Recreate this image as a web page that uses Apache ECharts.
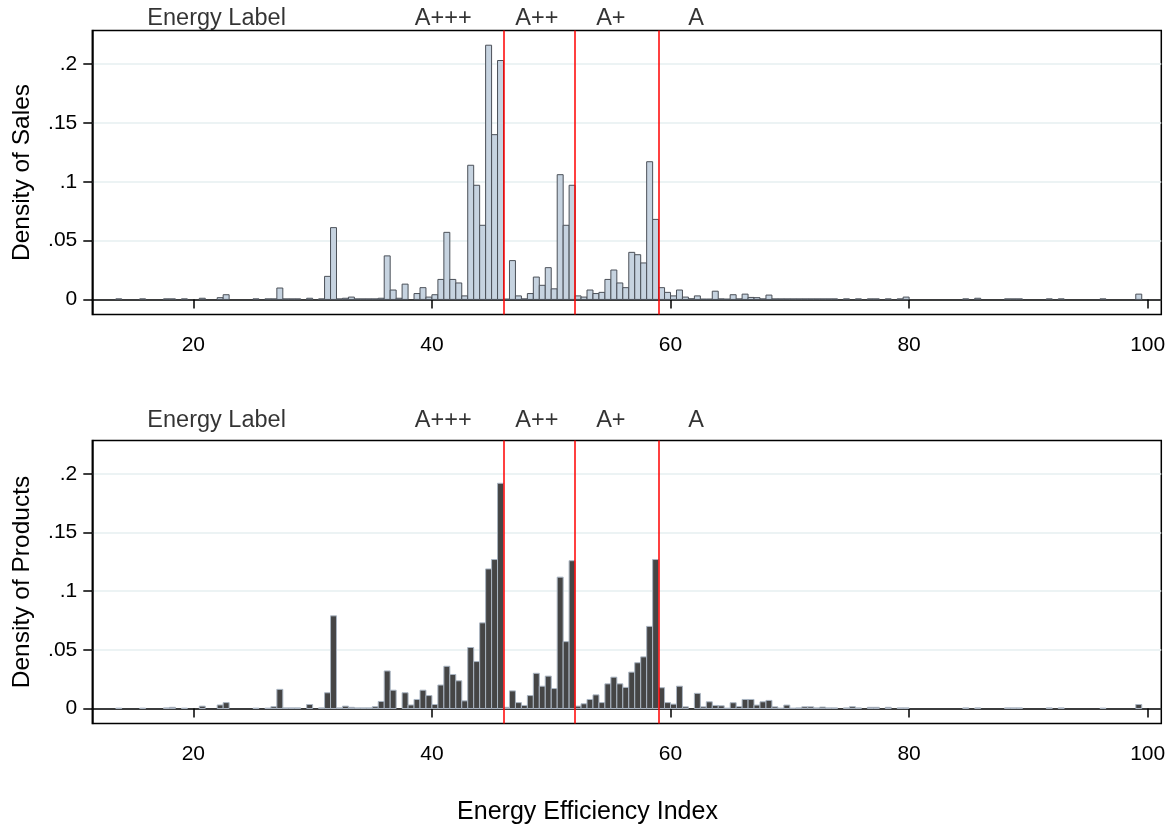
<!DOCTYPE html>
<html>
<head>
<meta charset="utf-8">
<title>Energy Efficiency Index</title>
<script src="https://cdn.jsdelivr.net/npm/echarts@6/dist/echarts.min.js"></script>
<style>
  html, body { margin: 0; padding: 0; background: #ffffff; }
  #chart { width: 1175px; height: 826px; }
</style>
</head>
<body>
<div id="chart"></div>
<script>
// Histogram bins: [bin start, density], each bin is BIN_WIDTH wide
const BIN_WIDTH = 0.5;

const salesHist = [
  [13.5,0.0005],[15.5,0.0005],[17.5,0.0005],[18,0.0005],[19,0.0005],[20.5,0.001],
  [22,0.0015],[22.5,0.004],[25,0.0005],[26,0.0005],[26.5,0.0005],[27,0.0097],
  [27.5,0.0005],[28,0.0005],[28.5,0.0005],[29.5,0.001],[30.5,0.0005],[31,0.0196],
  [31.5,0.061],[32,0.0005],[32.5,0.001],[33,0.002],[33.5,0.0005],[34,0.0005],
  [34.5,0.0005],[35,0.0005],[35.5,0.001],[36,0.037],[36.5,0.008],[37,0.001],
  [37.5,0.013],[38.5,0.005],[39,0.010],[39.5,0.002],[40,0.004],[40.5,0.017],
  [41,0.057],[41.5,0.017],[42,0.014],[42.5,0.003],[43,0.114],[43.5,0.097],
  [44,0.063],[44.5,0.216],[45,0.140],[45.5,0.203],[46,0.0003],[46.5,0.033],
  [47,0.003],[47.5,0.0005],[48,0.005],[48.5,0.019],[49,0.012],[49.5,0.027],
  [50,0.009],[50.5,0.106],[51,0.063],[51.5,0.097],[52,0.003],[52.5,0.002],
  [53,0.008],[53.5,0.005],[54,0.006],[54.5,0.017],[55,0.025],[55.5,0.014],
  [56,0.010],[56.5,0.040],[57,0.038],[57.5,0.031],[58,0.117],[58.5,0.068],
  [59,0.010],[59.5,0.006],[60,0.003],[60.5,0.008],[61,0.002],[61.5,0.0006],
  [62,0.003],[62.5,0.0003],[63,0.0003],[63.5,0.007],[64,0.0005],[64.5,0.0003],
  [65,0.004],[65.5,0.0005],[66,0.0045],[66.5,0.0017],[67,0.0015],[67.5,0.0005],
  [68,0.0037],[68.5,0.0005],[69,0.0005],[69.5,0.0005],[70,0.0005],[70.5,0.0005],
  [71,0.0005],[71.5,0.0005],[72,0.0005],[72.5,0.0005],[73,0.0005],[73.5,0.0005],
  [74.5,0.0005],[75.5,0.0005],[76.5,0.0005],[77,0.0005],[78,0.0005],[79,0.0005],
  [79.5,0.002],[84.5,0.0005],[85.5,0.001],[88,0.0005],[88.5,0.0005],[89,0.0005],
  [91.5,0.0005],[92.5,0.0005],[96,0.0005],[99,0.0045]
];

const productsHist = [
  [13.5,0.0003],[15.5,0.0003],[17.5,0.0005],[18,0.001],[19,0.0003],[20.5,0.002],
  [22,0.003],[22.5,0.005],[25,0.0003],[26,0.0003],[26.5,0.0015],[27,0.0163],
  [27.5,0.0005],[28,0.0005],[28.5,0.0005],[29.5,0.0034],[30.5,0.0005],[31,0.0134],
  [31.5,0.079],[32,0.0005],[32.5,0.002],[33,0.001],[33.5,0.0005],[34,0.0005],
  [34.5,0.0005],[35,0.0015],[35.5,0.006],[36,0.032],[36.5,0.0156],[37.5,0.0134],
  [38,0.003],[38.5,0.0077],[39,0.0156],[39.5,0.011],[40,0.0034],[40.5,0.020],
  [41,0.036],[41.5,0.029],[42,0.0236],[42.5,0.0065],[43,0.052],[43.5,0.040],
  [44,0.073],[44.5,0.119],[45,0.127],[45.5,0.192],[46,0.001],[46.5,0.015],
  [47,0.005],[47.5,0.0026],[48,0.011],[48.5,0.030],[49,0.019],[49.5,0.0276],
  [50,0.017],[50.5,0.112],[51,0.057],[51.5,0.126],[52,0.002],[52.5,0.004],
  [53,0.0077],[53.5,0.0116],[54,0.005],[54.5,0.021],[55,0.0267],[55.5,0.021],
  [56,0.018],[56.5,0.031],[57,0.039],[57.5,0.044],[58,0.070],[58.5,0.127],
  [59,0.0177],[59.5,0.005],[60,0.0037],[60.5,0.019],[61,0.0014],[62,0.0129],
  [62.5,0.0014],[63,0.0057],[63.5,0.0026],[64,0.0023],[64.5,0.0003],[65,0.0049],
  [65.5,0.0017],[66,0.0077],[66.5,0.0077],[67,0.0029],[67.5,0.0057],[68,0.0069],
  [68.5,0.0014],[69,0.0003],[69.5,0.0029],[70,0.0003],[70.5,0.0005],[71,0.0014],
  [71.5,0.0014],[72,0.0005],[72.5,0.0012],[73,0.0005],[73.5,0.0005],[74.5,0.0005],
  [75,0.0015],[75.5,0.0005],[76.5,0.001],[77,0.001],[78,0.001],[79,0.0005],
  [79.5,0.0005],[84.5,0.0005],[85.5,0.0005],[88,0.0005],[88.5,0.0005],[89,0.0005],
  [91.5,0.0005],[92.5,0.0005],[96,0.0003],[99,0.0034]
];

// Energy label class boundaries and the label row above each panel
const classBounds = [46, 52, 59];
const labelNames = ['Energy Label', 'A+++', 'A++', 'A+', 'A'];
const labelX = [21.95, 40.95, 48.8, 55.0, 62.15];

const xTicks = [20, 40, 60, 80, 100];
const yTicks = [0, 0.05, 0.1, 0.15, 0.2];

const X_MIN = 11.53, X_MAX = 101.14;
const Y_MIN = -0.0128, Y_MAX = 0.2285;

const FONT = "'Liberation Sans', Arial, sans-serif";

function fmtY(v) {
  return v === 0 ? '0' : String(v).replace(/^0/, '');
}

function barRenderer(fill, stroke) {
  return function (params, api) {
    const x0 = api.value(0);
    const h = api.value(1);
    const p0 = api.coord([x0, 0]);
    const p1 = api.coord([x0 + BIN_WIDTH, h]);
    return {
      type: 'rect',
      shape: { x: p0[0], y: p1[1], width: p1[0] - p0[0], height: p0[1] - p1[1] },
      style: { fill: fill, stroke: stroke, lineWidth: 1 }
    };
  };
}

function makeX(gridIndex) {
  return {
    type: 'value', gridIndex: gridIndex, min: X_MIN, max: X_MAX,
    axisLine: { show: true, lineStyle: { color: '#000', width: 1.5 } },
    axisTick: { show: true, length: 9, customValues: xTicks, lineStyle: { color: '#000', width: 1.5 } },
    axisLabel: { show: true, customValues: xTicks, margin: 20, color: '#000', fontSize: 21, fontFamily: FONT },
    splitLine: { show: false }
  };
}

function makeY(gridIndex, name) {
  return {
    type: 'value', gridIndex: gridIndex, min: Y_MIN, max: Y_MAX,
    name: name, nameLocation: 'middle', nameGap: 58,
    nameTextStyle: { color: '#000', fontSize: 24.5, fontFamily: FONT },
    axisLine: { show: true, lineStyle: { color: '#000', width: 1.5 } },
    axisTick: { show: true, length: 9, customValues: yTicks, lineStyle: { color: '#000', width: 1.5 } },
    axisLabel: { show: true, customValues: yTicks, margin: 15, color: '#000', fontSize: 21, fontFamily: FONT, formatter: fmtY },
    splitLine: { show: true, lineStyle: { color: '#e6eff1', width: 1.5 } }
  };
}

function histSeries(idx, data, fill, stroke) {
  return {
    type: 'custom', xAxisIndex: idx, yAxisIndex: idx,
    data: data, encode: { x: 0, y: 1 },
    renderItem: barRenderer(fill, stroke),
    silent: true, z: 2,
    markLine: {
      silent: true, symbol: 'none', animation: false,
      label: { show: false },
      lineStyle: { color: '#ff0000', width: 1.5, type: 'solid' },
      data: classBounds.map(function (b) { return { xAxis: b }; })
    }
  };
}

function labelSeries(idx, yVal) {
  return {
    type: 'scatter', xAxisIndex: idx, yAxisIndex: idx, clip: false, silent: true,
    symbolSize: 1, itemStyle: { color: 'rgba(0,0,0,0)' }, z: 5,
    label: {
      show: true, position: 'inside', color: '#000', fontSize: 23.5, fontFamily: FONT,
      formatter: function (p) { return p.name; }
    },
    data: labelNames.map(function (n, i) { return { name: n, value: [labelX[i], yVal] }; })
  };
}

const chart = echarts.init(document.getElementById('chart'), null, { renderer: 'canvas' });

chart.setOption({
  animation: false,
  backgroundColor: '#ffffff',
  title: {
    text: 'Energy Efficiency Index',
    left: 'center', top: 795,
    textStyle: { color: '#000', fontSize: 25, fontWeight: 'normal', fontFamily: FONT }
  },
  grid: [
    { left: 92.3, right: 13.7, top: 30.5, height: 284, show: true, borderColor: '#000', borderWidth: 1.5, backgroundColor: 'transparent' },
    { left: 92.3, right: 13.7, top: 440.5, height: 283, show: true, borderColor: '#000', borderWidth: 1.5, backgroundColor: 'transparent' }
  ],
  xAxis: [makeX(0), makeX(1)],
  yAxis: [makeY(0, 'Density of Sales'), makeY(1, 'Density of Products')],
  series: [
    histSeries(0, salesHist, '#c6d3e0', '#4b5058'),
    histSeries(1, productsHist, '#454545', '#aab5c2'),
    labelSeries(0, 0.2388),
    labelSeries(1, 0.2454)
  ]
});
</script>
</body>
</html>
